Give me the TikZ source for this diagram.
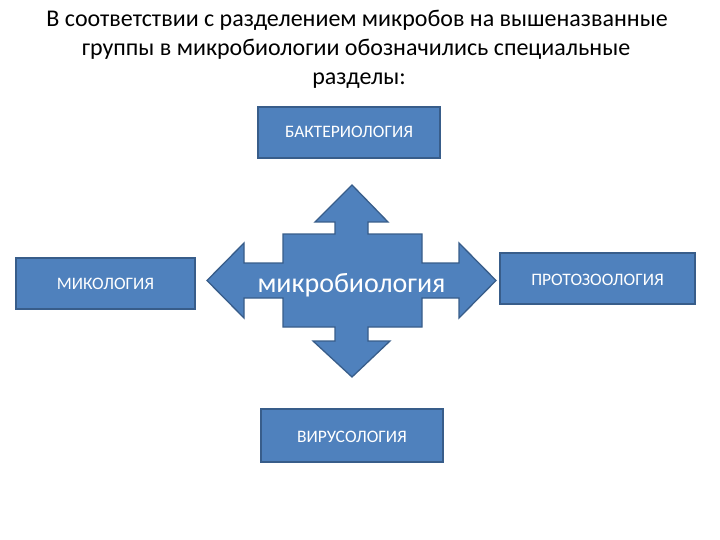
\documentclass[tikz,border=0pt]{standalone}
\usepackage{fontspec}
\setmainfont{Carlito}
\definecolor{ofblue}{HTML}{4F81BD}
\definecolor{ofedge}{HTML}{385D8A}
\tikzset{
  px/.style={x=1pt,y=-1pt},
  boxstyle/.style={draw=ofedge,fill=ofblue,line width=1.3pt},
  boxtext/.style={text=white,font=\fontsize{17.5}{20}\selectfont,inner sep=0pt,anchor=base},
  titletext/.style={text=black,font=\fontsize{24}{29}\selectfont,inner sep=0pt,anchor=base},
}
\begin{document}
\begin{tikzpicture}[px]
\useasboundingbox (0,0) rectangle (720,540);
\node[titletext] (title1) at (357,27) {В соответствии с разделением микробов на вышеназванные};
\node[titletext] (title2) at (356,56) {группы в микробиологии обозначились специальные};
\node[titletext] (title3) at (359,85) {разделы:};
% boxes
\draw[boxstyle] (258,107) rectangle (440,158);
\node[boxtext] (bact) at (349,138) {БАКТЕРИОЛОГИЯ};
\draw[boxstyle] (16,258) rectangle (195,309);
\node[boxtext] (myco) at (105.5,289.5) {МИКОЛОГИЯ};
\draw[boxstyle] (500,253) rectangle (695,304);
\node[boxtext] (proto) at (597.5,285) {ПРОТОЗООЛОГИЯ};
\draw[boxstyle] (261,409) rectangle (443,462);
\node[boxtext] (viro) at (352,442) {ВИРУСОЛОГИЯ};
% quad arrow
\draw[boxstyle] (352,185) -- (388,222) -- (368,222) -- (368,234) -- (422,234) -- (422,263) -- (459,263) -- (459,243) -- (496,280.5) -- (459,318) -- (459,298) -- (422,298) -- (422,327) -- (368,327) -- (368,341) -- (390,341) -- (352,377) -- (313,341) -- (335,341) -- (335,327) -- (283,327) -- (283,298) -- (244,298) -- (244,318) -- (207,280.5) -- (244,243) -- (244,263) -- (283,263) -- (283,234) -- (335,234) -- (335,222) -- (315,222) -- cycle;
\node[text=white,font=\fontsize{28}{32}\selectfont,inner sep=0pt,anchor=base] (micro) at (351.5,292) {микробиология};
\end{tikzpicture}
\end{document}
